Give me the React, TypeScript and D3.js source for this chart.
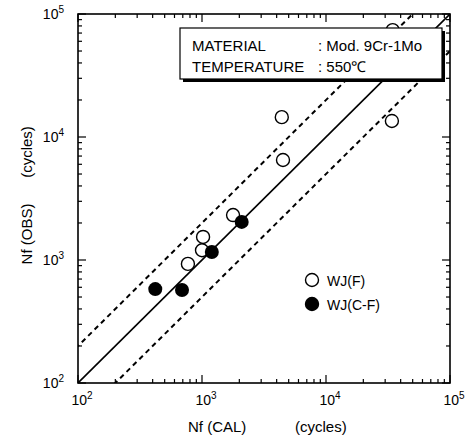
import { useEffect, useRef } from 'react';
import * as d3 from 'd3';

// Open circles: WJ(F)
const wjfCal = [770, 1000, 1020, 1780, 4400, 4500, 34000, 34500];
const wjfObs = [930, 1200, 1540, 2320, 14500, 6500, 13500, 74000];

// Filled circles: WJ(C-F)
const wjcfCal = [420, 690, 1200, 2090];
const wjcfObs = [580, 570, 1160, 2040];

const tickExps = [2, 3, 4, 5];
const bandFactor = 2;

export default function App() {
    const svgRef = useRef<SVGSVGElement>(null);

    useEffect(() => {
        const width = 468;
        const height = 439;
        const margin = { top: 14, right: 18, bottom: 56, left: 78 };
        const innerWidth = width - margin.left - margin.right;
        const innerHeight = height - margin.top - margin.bottom;
        const font = '"Liberation Sans", Arial, sans-serif';

        const svg = d3.select(svgRef.current);
        svg.selectAll('*').remove();
        svg.attr('width', width).attr('height', height);

        svg.append('rect').attr('width', width).attr('height', height).attr('fill', '#fff');

        const g = svg
            .append('g')
            .attr('transform', `translate(${margin.left},${margin.top})`);

        const x = d3.scaleLog().domain([1e2, 1e5]).range([0, innerWidth]);
        const y = d3.scaleLog().domain([1e2, 1e5]).range([innerHeight, 0]);

        svg.append('defs')
            .append('clipPath')
            .attr('id', 'plot-clip')
            .append('rect')
            .attr('width', innerWidth)
            .attr('height', innerHeight);

        // 1:1 line and factor of 2 band
        const lines = g.append('g').attr('clip-path', 'url(#plot-clip)');
        const diag = [1e1, 1e6];
        const lineFor = (k: number) =>
            d3.line<number>()
                .x((d) => x(d))
                .y((d) => y(d * k))(diag);

        lines.append('path')
            .attr('d', lineFor(1))
            .attr('fill', 'none')
            .attr('stroke', '#000')
            .attr('stroke-width', 1.6);

        [bandFactor, 1 / bandFactor].forEach((k) => {
            lines.append('path')
                .attr('d', lineFor(k))
                .attr('fill', 'none')
                .attr('stroke', '#000')
                .attr('stroke-width', 2)
                .attr('stroke-dasharray', '5,4');
        });

        // Points
        g.selectAll('.open')
            .data(wjfCal)
            .enter()
            .append('circle')
            .attr('cx', (d) => x(d))
            .attr('cy', (d, i) => y(wjfObs[i]))
            .attr('r', 6.5)
            .attr('fill', '#fff')
            .attr('stroke', '#000')
            .attr('stroke-width', 1.4);

        g.selectAll('.filled')
            .data(wjcfCal)
            .enter()
            .append('circle')
            .attr('cx', (d) => x(d))
            .attr('cy', (d, i) => y(wjcfObs[i]))
            .attr('r', 7)
            .attr('fill', '#000');

        // Material box
        const box = svg.append('g');
        box.append('rect')
            .attr('x', 183).attr('y', 31).attr('width', 262).attr('height', 51)
            .attr('fill', '#000');
        box.append('rect')
            .attr('x', 180).attr('y', 28).attr('width', 262).attr('height', 51)
            .attr('fill', '#fff')
            .attr('stroke', '#000')
            .attr('stroke-width', 1.2);
        const boxText = [
            ['MATERIAL', ': Mod. 9Cr-1Mo', 51],
            ['TEMPERATURE', ': 550\u2103', 72],
        ];
        boxText.forEach(([k, v, yy]) => {
            box.append('text').attr('x', 192).attr('y', yy)
                .style('font-family', font).style('font-size', '15px').text(k as string);
            box.append('text').attr('x', 318).attr('y', yy)
                .style('font-family', font).style('font-size', '15px').text(v as string);
        });

        // Frame and ticks
        g.append('rect')
            .attr('width', innerWidth)
            .attr('height', innerHeight)
            .attr('fill', 'none')
            .attr('stroke', '#000')
            .attr('stroke-width', 1.6);

        const minor: number[] = [];
        for (let e = 2; e < 5; e++) {
            for (let m = 2; m <= 9; m++) minor.push(m * 10 ** e);
        }
        const major = tickExps.map((e) => 10 ** e);

        const ticks = g.append('g').attr('stroke', '#000').attr('stroke-width', 1.2);
        const addTicks = (vals: number[], len: number) => {
            vals.forEach((v) => {
                ticks.append('line').attr('x1', x(v)).attr('x2', x(v)).attr('y1', innerHeight).attr('y2', innerHeight - len);
                ticks.append('line').attr('x1', x(v)).attr('x2', x(v)).attr('y1', 0).attr('y2', len);
                ticks.append('line').attr('y1', y(v)).attr('y2', y(v)).attr('x1', 0).attr('x2', len);
                ticks.append('line').attr('y1', y(v)).attr('y2', y(v)).attr('x1', innerWidth).attr('x2', innerWidth - len);
            });
        };
        addTicks(minor, 4);
        addTicks(major, 8);

        // Tick labels
        tickExps.forEach((e) => {
            const xt = g.append('text')
                .attr('x', x(10 ** e) + 4)
                .attr('y', innerHeight + 22)
                .attr('text-anchor', 'middle')
                .style('font-family', font)
                .style('font-size', '14px');
            xt.append('tspan').text('10');
            xt.append('tspan').attr('dy', -6).style('font-size', '10px').text(e);

            const yt = g.append('text')
                .attr('x', -14)
                .attr('y', y(10 ** e) + 5)
                .attr('text-anchor', 'end')
                .style('font-family', font)
                .style('font-size', '14px');
            yt.append('tspan').text('10');
            yt.append('tspan').attr('dy', -6).style('font-size', '10px').text(e);
        });

        // Axis titles
        svg.append('text').attr('x', 188).attr('y', 432)
            .style('font-family', font).style('font-size', '15px').text('Nf (CAL)');
        svg.append('text').attr('x', 295).attr('y', 432)
            .style('font-family', font).style('font-size', '15px').text('(cycles)');

        svg.append('text')
            .attr('transform', 'translate(32,234) rotate(-90)')
            .attr('text-anchor', 'middle')
            .style('font-family', font).style('font-size', '15px').text('Nf (OBS)');
        svg.append('text')
            .attr('transform', 'translate(32,152) rotate(-90)')
            .attr('text-anchor', 'middle')
            .style('font-family', font).style('font-size', '15px').text('(cycles)');

        // Legend
        const legend = svg.append('g');
        const legendItems = [
            { label: 'WJ(F)', fill: '#fff', y: 280 },
            { label: 'WJ(C-F)', fill: '#000', y: 304 },
        ];
        legendItems.forEach((d) => {
            legend.append('circle')
                .attr('cx', 312).attr('cy', d.y).attr('r', 6.5)
                .attr('fill', d.fill).attr('stroke', '#000').attr('stroke-width', 1.4);
            legend.append('text').attr('x', 327).attr('y', d.y + 6)
                .style('font-family', font).style('font-size', '14px').text(d.label);
        });
    }, []);

    return (
        <svg ref={svgRef} style={{ position: 'absolute', left: 0, top: 0 }}></svg>
    );
}
